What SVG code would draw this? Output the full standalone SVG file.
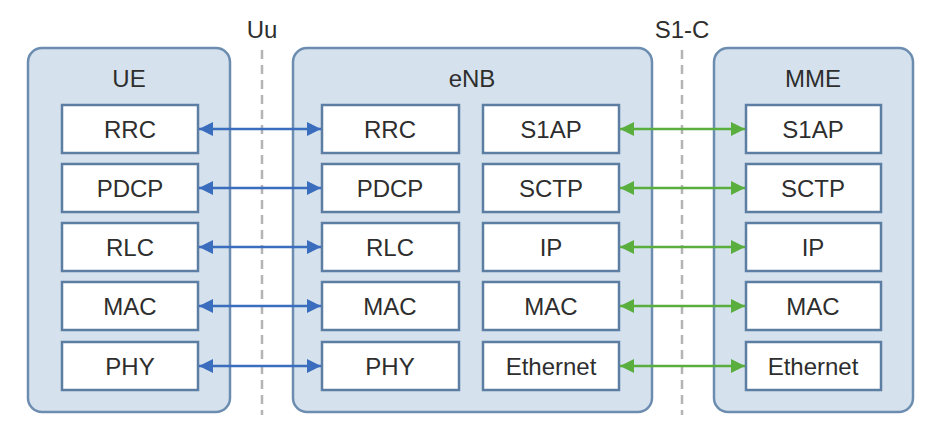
<svg xmlns="http://www.w3.org/2000/svg" width="950" height="430" viewBox="0 0 950 430">
<style>
.cont{fill:#d5e2ed;stroke:#6d8db0;stroke-width:2.5}
.box{fill:#fff;stroke:#5d7ea3;stroke-width:2.5}
text{font-family:"Liberation Sans",Arial,sans-serif;font-size:24px;fill:#2e2e2e;text-anchor:middle}
.dash{stroke:#b4b4b4;stroke-width:2.5;stroke-dasharray:9,6;fill:none}
.blue{stroke:#3b6dbf;stroke-width:2.5;fill:none;marker-start:url(#bs);marker-end:url(#be)}
.green{stroke:#5aae3e;stroke-width:2.5;fill:none;marker-start:url(#gs);marker-end:url(#ge)}
</style>
<defs>
<marker id="be" markerWidth="14" markerHeight="14" refX="14" refY="7" orient="auto" markerUnits="userSpaceOnUse"><path d="M0,0 L14,7 L0,14 Z" fill="#3b6dbf"/></marker>
<marker id="bs" markerWidth="14" markerHeight="14" refX="0" refY="7" orient="auto" markerUnits="userSpaceOnUse"><path d="M14,0 L0,7 L14,14 Z" fill="#3b6dbf"/></marker>
<marker id="ge" markerWidth="14" markerHeight="14" refX="14" refY="7" orient="auto" markerUnits="userSpaceOnUse"><path d="M0,0 L14,7 L0,14 Z" fill="#5aae3e"/></marker>
<marker id="gs" markerWidth="14" markerHeight="14" refX="0" refY="7" orient="auto" markerUnits="userSpaceOnUse"><path d="M14,0 L0,7 L14,14 Z" fill="#5aae3e"/></marker>
</defs>
<rect width="950" height="430" fill="#fff"/>
<g id="interfaces">
<line class="dash" x1="262" y1="50" x2="262" y2="415"/>
<line class="dash" x1="682" y1="50" x2="682" y2="415"/>
<text x="262" y="38">Uu</text>
<text x="682" y="38">S1-C</text>
</g>
<g id="UE">
<rect class="cont" x="28" y="48" width="202" height="364" rx="14"/>
<text x="129" y="87">UE</text>
</g>
<g id="eNB">
<rect class="cont" x="293" y="48" width="359" height="364" rx="14"/>
<text x="472" y="87">eNB</text>
</g>
<g id="MME">
<rect class="cont" x="714" y="48" width="199" height="364" rx="14"/>
<text x="813" y="87">MME</text>
</g>
<g id="ue-rrc"><rect class="box" x="62" y="105" width="136" height="48"/><text x="130" y="138">RRC</text></g>
<g id="ue-pdcp"><rect class="box" x="62" y="164" width="136" height="48"/><text x="130" y="197">PDCP</text></g>
<g id="ue-rlc"><rect class="box" x="62" y="223" width="136" height="48"/><text x="130" y="256">RLC</text></g>
<g id="ue-mac"><rect class="box" x="62" y="282" width="136" height="48"/><text x="130" y="315">MAC</text></g>
<g id="ue-phy"><rect class="box" x="62" y="342" width="136" height="48"/><text x="130" y="375">PHY</text></g>
<g id="enb-rrc"><rect class="box" x="322" y="105" width="137" height="48"/><text x="390" y="138">RRC</text></g>
<g id="enb-pdcp"><rect class="box" x="322" y="164" width="137" height="48"/><text x="390" y="197">PDCP</text></g>
<g id="enb-rlc"><rect class="box" x="322" y="223" width="137" height="48"/><text x="390" y="256">RLC</text></g>
<g id="enb-mac"><rect class="box" x="322" y="282" width="137" height="48"/><text x="390" y="315">MAC</text></g>
<g id="enb-phy"><rect class="box" x="322" y="342" width="137" height="48"/><text x="390" y="375">PHY</text></g>
<g id="enb-s1ap"><rect class="box" x="483" y="105" width="136" height="48"/><text x="551" y="138">S1AP</text></g>
<g id="enb-sctp"><rect class="box" x="483" y="164" width="136" height="48"/><text x="551" y="197">SCTP</text></g>
<g id="enb-ip"><rect class="box" x="483" y="223" width="136" height="48"/><text x="551" y="256">IP</text></g>
<g id="enb-mac2"><rect class="box" x="483" y="282" width="136" height="48"/><text x="551" y="315">MAC</text></g>
<g id="enb-eth"><rect class="box" x="483" y="342" width="136" height="48"/><text x="551" y="375">Ethernet</text></g>
<g id="mme-s1ap"><rect class="box" x="746" y="105" width="135" height="48"/><text x="813" y="138">S1AP</text></g>
<g id="mme-sctp"><rect class="box" x="746" y="164" width="135" height="48"/><text x="813" y="197">SCTP</text></g>
<g id="mme-ip"><rect class="box" x="746" y="223" width="135" height="48"/><text x="813" y="256">IP</text></g>
<g id="mme-mac"><rect class="box" x="746" y="282" width="135" height="48"/><text x="813" y="315">MAC</text></g>
<g id="mme-eth"><rect class="box" x="746" y="342" width="135" height="48"/><text x="813" y="375">Ethernet</text></g>
<g id="connectors">
<line class="blue" x1="199" y1="129" x2="321" y2="129"/>
<line class="blue" x1="199" y1="188" x2="321" y2="188"/>
<line class="blue" x1="199" y1="247" x2="321" y2="247"/>
<line class="blue" x1="199" y1="306" x2="321" y2="306"/>
<line class="blue" x1="199" y1="366" x2="321" y2="366"/>
<line class="green" x1="620" y1="129" x2="745" y2="129"/>
<line class="green" x1="620" y1="188" x2="745" y2="188"/>
<line class="green" x1="620" y1="247" x2="745" y2="247"/>
<line class="green" x1="620" y1="306" x2="745" y2="306"/>
<line class="green" x1="620" y1="366" x2="745" y2="366"/>
</g>
</svg>
